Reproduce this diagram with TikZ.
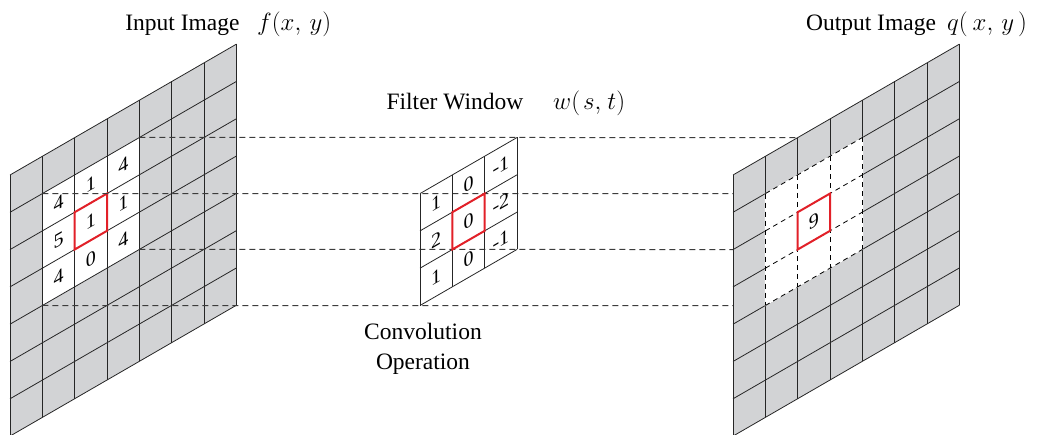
\documentclass[tikz,border=0pt]{standalone}
\usepackage{fontspec}
\setmainfont{Liberation Serif}
\definecolor{cellgray}{RGB}{210,211,213}
\definecolor{hotred}{RGB}{226,32,40}
\definecolor{guidegray}{RGB}{60,60,60}
\begin{document}
\begin{tikzpicture}[x=1pt,y=1pt,
  gridline/.style={draw=black!85, line width=0.8pt},
  guide/.style={draw=guidegray, line width=1pt, dash pattern=on 6pt off 4pt},
  winline/.style={draw=black, line width=0.8pt, dash pattern=on 5pt off 4pt},
  hot/.style={draw=hotred, line width=2pt},
  num/.style={font=\fontsize{20}{20}\selectfont, inner sep=0pt, transform shape},
  title/.style={font=\fontsize{23.5}{30}\selectfont, inner sep=0pt}]
\useasboundingbox (0,0) rectangle (1042,-434);
\clip (0,0) rectangle (1042,-434);

\def\cellW{32.36}
\def\cellH{37.3}
\def\slope{0.578}

% ---- input image f(x,y): 7x7 sheared grid with a white 3x3 neighbourhood
\begin{scope}[shift={(10,-175)}, yslant=\slope]
  \fill[cellgray] (0,0) rectangle (7*\cellW,-7*\cellH);
  \fill[white] (\cellW,-\cellH) rectangle (4*\cellW,-4*\cellH);
  \foreach \i in {0,...,7} \draw[gridline] (\i*\cellW,0) -- (\i*\cellW,-7*\cellH);
  \foreach \j in {0,...,7} \draw[gridline] (0,-\j*\cellH) -- (7*\cellW,-\j*\cellH);
  \draw[hot] (2*\cellW,-2*\cellH) rectangle (3*\cellW,-3*\cellH);
  \foreach \c/\r/\v in {1/1/4, 2/1/1, 3/1/4, 1/2/5, 2/2/1, 3/2/1, 1/3/4, 2/3/0, 3/3/4}
    \node[num] (in-\c-\r) at ({(\c+0.5)*\cellW},{-(\r+0.5)*\cellH}) {\v};
  \coordinate (in-a) at (4*\cellW,-\cellH);
  \coordinate (in-b) at (\cellW,-\cellH);
  \coordinate (in-c) at (4*\cellW,-4*\cellH);
  \coordinate (in-d) at (\cellW,-4*\cellH);
\end{scope}

% ---- corner points of the filter window and where the guides meet the output
\begin{scope}[shift={(420,-193.6)}, yslant=\slope]
  \coordinate (win-a) at (3*\cellW,0);
  \coordinate (win-b) at (0,0);
  \coordinate (win-c) at (3*\cellW,-3*\cellH);
  \coordinate (win-d) at (0,-3*\cellH);
\end{scope}
\begin{scope}[shift={(733,-175)}, yslant=\slope]
  \coordinate (out-a) at (2*\cellW,0);
  \coordinate (out-b) at (0,-0.5*\cellH);
  \coordinate (out-c) at (0,-2*\cellH);
  \coordinate (out-d) at (0,-3.5*\cellH);
\end{scope}

% ---- projection guides
\draw[guide] (in-a) -- (win-a) -- (out-a);
\draw[guide] (in-b) -- (win-b) -- (out-b);
\draw[guide] (in-c) -- (win-c) -- (out-c);
\draw[guide] (in-d) -- (win-d) -- (out-d);

% ---- filter window w(s,t): 3x3 Sobel kernel
\begin{scope}[shift={(420,-193.6)}, yslant=\slope]
  \foreach \i in {0,...,3} \draw[gridline] (\i*\cellW,0) -- (\i*\cellW,-3*\cellH);
  \foreach \j in {0,...,3} \draw[gridline] (0,-\j*\cellH) -- (3*\cellW,-\j*\cellH);
  \draw[hot] (\cellW,-\cellH) rectangle (2*\cellW,-2*\cellH);
  \foreach \c/\r/\v in {0/0/1, 1/0/0, 2/0/-1, 0/1/2, 1/1/0, 2/1/-2, 0/2/1, 1/2/0, 2/2/-1}
    \node[num] (win-\c-\r) at ({(\c+0.5)*\cellW},{-(\r+0.5)*\cellH}) {\v};
\end{scope}

% ---- output image q(x,y)
\begin{scope}[shift={(733,-175)}, yslant=\slope]
  \fill[cellgray] (0,0) rectangle (7*\cellW,-7*\cellH);
  \foreach \i in {0,...,7} \draw[gridline] (\i*\cellW,0) -- (\i*\cellW,-7*\cellH);
  \foreach \j in {0,...,7} \draw[gridline] (0,-\j*\cellH) -- (7*\cellW,-\j*\cellH);
  \fill[white] (\cellW-0.6,-\cellH+0.6) rectangle (4*\cellW+0.6,-4*\cellH-0.6);
  \foreach \i in {1,...,4} \draw[winline] (\i*\cellW,-\cellH) -- (\i*\cellW,-4*\cellH);
  \foreach \j in {1,...,4} \draw[winline] (\cellW,-\j*\cellH) -- (4*\cellW,-\j*\cellH);
  \draw[hot] (2*\cellW,-2*\cellH) rectangle (3*\cellW,-3*\cellH);
  \node[num] (out-2-2) at (2.5*\cellW,-2.5*\cellH) {9};
\end{scope}

% ---- titles
\node[title, anchor=base] (in-title) at (182.5,-30) {Input Image};
\node[title, anchor=base west] (in-func) at (257,-30) {$f(x,\,y)$};
\node[title, anchor=base] (win-title) at (455,-109) {Filter Window};
\node[title, anchor=base west] (win-func) at (553,-109) {$w(\hspace{3pt}s,\hspace{2pt}t)$};
\node[title, anchor=base] (out-title) at (871,-30) {Output Image};
\node[title, anchor=base west] (out-func) at (947,-30) {$q(\hspace{5pt}x,\hspace{4pt}y\hspace{4pt})$};
\node[title, anchor=north, align=center] (conv) at (423,-323) {Convolution\\Operation};
\end{tikzpicture}
\end{document}
